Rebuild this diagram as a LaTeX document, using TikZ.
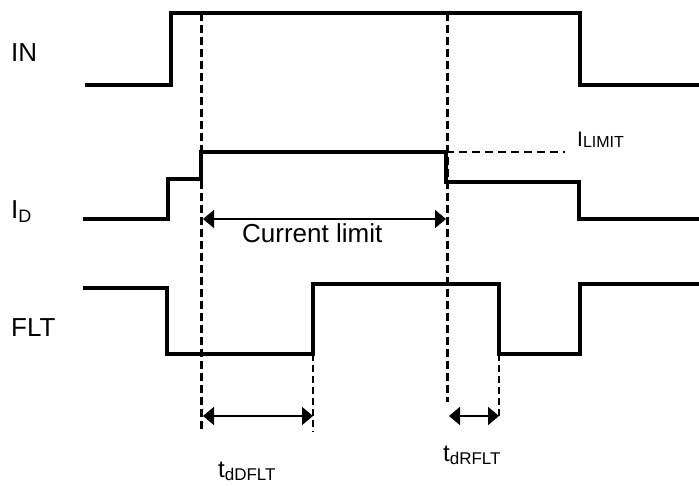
\documentclass[tikz,border=0pt]{standalone}
\usepackage{fontspec}
\setmainfont{Liberation Sans}
\usetikzlibrary{arrows.meta, positioning, calc}
\newcommand{\lowtext}[3]{\raisebox{-#1}{\fontsize{#2}{18}\selectfont #3}}

\begin{document}
\begin{tikzpicture}[x=1pt, y=-1pt,
    wave/.style={line width=3.4pt, line join=miter},
    guide/.style={line width=3pt, dash pattern=on 8pt off 4pt},
    thinguide/.style={line width=1.5pt, dash pattern=on 7pt off 4pt},
    span/.style={line width=1.8pt, {Triangle[length=11pt,width=18pt]}-{Triangle[length=11pt,width=18pt]}},
    lbl/.style={inner sep=0pt, anchor=base west, font=\fontsize{26}{30}\selectfont}]
    \useasboundingbox (0,0) rectangle (699,486);

    % signals
    \draw[wave] (85,85) -- (171,85) -- (171,13) -- (580,13) -- (580,85) -- (699,85);
    \draw[wave] (83,219) -- (168,219) -- (168,179) -- (201,179) -- (201,152) -- (446,152) -- (446,182) -- (579,182) -- (579,219) -- (699,219);
    \draw[wave] (83,288) -- (167,288) -- (167,354) -- (313,354) -- (313,284) -- (499,284) -- (499,354) -- (580,354) -- (580,284) -- (699,284);

    % time marks
    \coordinate (onTop) at (201,13);
    \coordinate (onEnd) at (201,430);
    \coordinate (offTop) at (447,13);
    \coordinate (offEnd) at (447,402);
    \coordinate (fltUp) at (313,354);
    \coordinate (fltUpEnd) at (313,432);
    \coordinate (fltDown) at (499,354);
    \coordinate (fltDownEnd) at (499,418);
    \coordinate (limStart) at (446,152);
    \coordinate (limEnd) at (565,152);

    \draw[guide] (onTop) -- (onEnd);
    \draw[guide] (offTop) -- (offEnd);
    \draw[thinguide] (fltUp) -- (fltUpEnd);
    \draw[thinguide] (fltDown) -- (fltDownEnd);
    \draw[line width=2.2pt, dash pattern=on 8pt off 5pt] (limStart) -- (limEnd);

    % spans
    \coordinate (limA) at (203,219);
    \coordinate (limB) at (446,219);
    \coordinate (dfA) at (203,416);
    \coordinate (dfB) at (313,416);
    \coordinate (drA) at (449,416);
    \coordinate (drB) at (499,416);
    \draw[span] (limA) -- (limB);
    \draw[span] (dfA) -- (dfB);
    \draw[span] (drA) -- (drB);

    % labels
    \node[lbl] (inLbl) at (11,62) {IN};
    \node[lbl] (idLbl) at (11,219) {I\lowtext{4pt}{18}{D}};
    \node[lbl] (fltLbl) at (11,337) {FLT};
    \node[lbl, font=\fontsize{21}{24}\selectfont] (limLbl) at (577,147) {I\lowtext{1pt}{16}{LIMIT}};
    \node[lbl, font=\fontsize{26}{30}\selectfont] (curLbl) at (242,243) {Current limit};
    \node[lbl, font=\fontsize{24}{28}\selectfont] (dfLbl) at (218,477) {t\lowtext{3pt}{17}{dDFLT}};
    \node[lbl, font=\fontsize{24}{28}\selectfont] (drLbl) at (443,461) {t\lowtext{3pt}{17}{dRFLT}};
\end{tikzpicture}
\end{document}
